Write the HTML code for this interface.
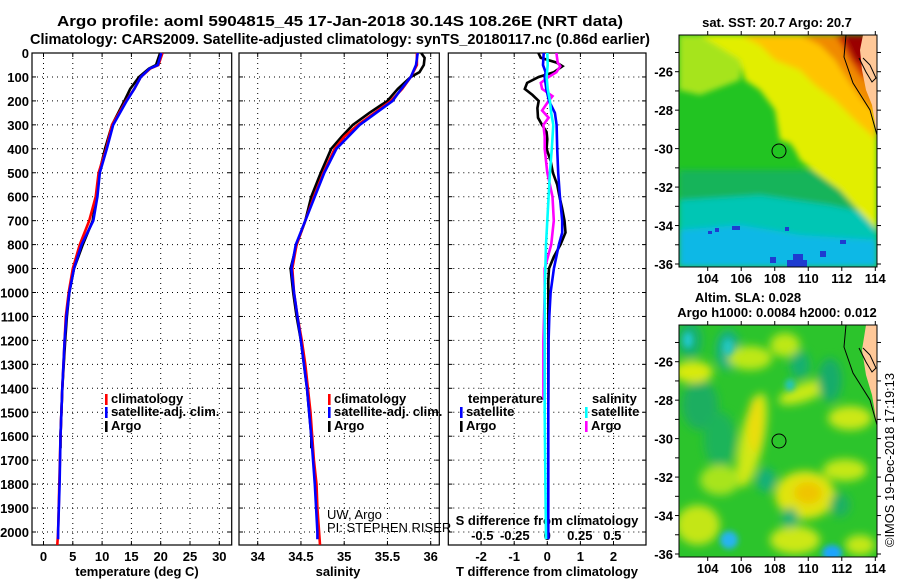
<!DOCTYPE html>
<html><head><meta charset="utf-8"><title>Argo profile</title>
<style>
html,body{margin:0;padding:0;background:#fff;}
svg{display:block;font-family:"Liberation Sans",sans-serif;}
.t{font-weight:bold;font-size:13px;fill:#000;}
.ttl{font-weight:bold;font-size:15px;fill:#000;}
.grid{stroke:#000;stroke-width:1;stroke-dasharray:1 4;fill:none;}
.ln{fill:none;stroke-width:2.6;stroke-linejoin:miter;}
</style></head>
<body>
<svg id="chart" width="900" height="580" viewBox="0 0 900 580">
<defs>
<filter id="b3" x="-20%" y="-20%" width="140%" height="140%"><feGaussianBlur stdDeviation="3"/></filter>
<filter id="b5" x="-50%" y="-50%" width="200%" height="200%"><feGaussianBlur stdDeviation="4.5"/></filter>
<clipPath id="m1c"><rect x="679" y="35" width="198" height="232"/></clipPath>
<clipPath id="m2c"><rect x="679" y="325" width="198" height="232"/></clipPath>
</defs>
<text class="ttl" x="340" y="26" text-anchor="middle" textLength="566" lengthAdjust="spacingAndGlyphs">Argo profile: aoml 5904815_45 17-Jan-2018 30.14S 108.26E (NRT data)</text>
<text class="ttl" x="340" y="44" text-anchor="middle" textLength="620" lengthAdjust="spacingAndGlyphs">Climatology: CARS2009. Satellite-adjusted climatology: synTS_20180117.nc (0.86d earlier)</text>

<!-- Map 1: SST -->
<g clip-path="url(#m1c)">
<rect x="679" y="35" width="198" height="232" fill="#22c422"/>
<g filter="url(#b3)">
<polygon points="679,35 745,35 740,80 700,95 679,90" fill="#a6e41c"/>
<polygon points="679,170 877,170 877,267 679,267" fill="#12b45a"/>
<polygon points="679,200 760,195 830,205 877,215 877,267 679,267" fill="#00c6b4"/>
<polygon points="679,230 740,225 800,235 877,240 877,267 679,267" fill="#10b8e6"/>
<polygon points="700,35 877,35 877,230 860,212 840,190 815,172 800,160 795,150 790,143 780,140 775,110 760,90 745,80 740,60" fill="#e2ee00"/>
<polygon points="740,35 877,35 877,140 855,120 835,100 815,85 800,70 775,60 760,45" fill="#ffc400"/>
<polygon points="800,35 877,35 877,115 862,100 848,80 835,60 820,45" fill="#f08a00"/>
<polygon points="835,35 877,35 877,90 860,75 850,60 842,45" fill="#d03000"/>
<polygon points="843,35 870,35 870,70 855,60" fill="#9a0000"/>
</g>
<g fill="#1e3cd0">
<rect x="715" y="228" width="4" height="4"/><rect x="732" y="226" width="8" height="4"/><rect x="708" y="231" width="4" height="3"/>
<rect x="793" y="254" width="10" height="8"/><rect x="787" y="260" width="20" height="7"/><rect x="820" y="251" width="6" height="6"/>
<rect x="770" y="257" width="6" height="6"/><rect x="785" y="227" width="4" height="4"/><rect x="840" y="240" width="6" height="4"/>
</g>
<polygon points="863,35 877,35 877,135 872,105 866,90 862,70 860,50" fill="#ffc898"/>
<polyline points="846,35 844,57 853,83 870,110 877,135" fill="none" stroke="#000" stroke-width="1"/>
<polyline points="859,58 866,72 872,82 876,78 870,65 863,58" fill="none" stroke="#000" stroke-width="1"/>
<circle cx="779" cy="151" r="7" fill="none" stroke="#000" stroke-width="1"/>
</g>
<rect x="679" y="35" width="198" height="232" fill="none" stroke="#000" stroke-width="1"/>
<text class="t" x="777" y="27" text-anchor="middle">sat. SST: 20.7 Argo: 20.7</text>

<!-- Map 2: SLA -->
<g clip-path="url(#m2c)">
<rect x="679" y="325" width="198" height="232" fill="#2cc42c"/>
<g filter="url(#b5)">
<ellipse cx="690" cy="340" rx="12" ry="18" fill="#18b070"/>
<ellipse cx="728" cy="350" rx="12" ry="20" fill="#12b08a"/>
<ellipse cx="700" cy="405" rx="18" ry="25" fill="#1aae60"/>
<ellipse cx="693" cy="372" rx="20" ry="11" fill="#d8ea10"/>
<ellipse cx="750" cy="358" rx="22" ry="12" fill="#bde818"/>
<ellipse cx="785" cy="345" rx="15" ry="12" fill="#bde818"/>
<ellipse cx="805" cy="392" rx="28" ry="9" fill="#c8ea16" transform="rotate(-20 805 392)"/>
<ellipse cx="752" cy="440" rx="12" ry="48" fill="#d0e812" transform="rotate(12 752 440)"/>
<ellipse cx="755" cy="425" rx="7" ry="28" fill="#ecdc08"/>
<ellipse cx="800" cy="365" rx="10" ry="14" fill="#18b070"/>
<ellipse cx="850" cy="418" rx="22" ry="12" fill="#cce816"/>
<ellipse cx="830" cy="380" rx="12" ry="22" fill="#16ac6a"/>
<ellipse cx="805" cy="495" rx="30" ry="24" fill="#e0e40c"/>
<ellipse cx="808" cy="493" rx="14" ry="11" fill="#f0c400"/>
<ellipse cx="845" cy="470" rx="22" ry="11" fill="#c4e818"/>
<ellipse cx="698" cy="525" rx="22" ry="20" fill="#c4e618"/>
<ellipse cx="795" cy="540" rx="25" ry="14" fill="#cce816"/>
<ellipse cx="720" cy="440" rx="16" ry="28" fill="#1eb45a"/>
<ellipse cx="720" cy="480" rx="20" ry="15" fill="#a8e41e"/>
<ellipse cx="766" cy="480" rx="10" ry="12" fill="#18b078"/>
<ellipse cx="790" cy="518" rx="8" ry="10" fill="#18b078"/>
<ellipse cx="840" cy="505" rx="10" ry="12" fill="#1cb064"/>
<ellipse cx="860" cy="545" rx="15" ry="10" fill="#c4e818"/>
</g>
<g filter="url(#b3)">
<ellipse cx="729" cy="540" rx="9" ry="9" fill="#28b4f0"/>
<ellipse cx="832" cy="553" rx="10" ry="8" fill="#1aa4ff"/>
<ellipse cx="790" cy="385" rx="5" ry="6" fill="#20c4c0"/>
<ellipse cx="688" cy="340" rx="5" ry="8" fill="#22c8c8"/>
<ellipse cx="728" cy="347" rx="5" ry="8" fill="#22c8c0"/>
</g>
<polygon points="866,325 877,325 877,425 872,395 866,375 862,350" fill="#ffc898"/>
<polyline points="846,325 844,347 853,373 870,400 877,425" fill="none" stroke="#000" stroke-width="1"/>
<polyline points="859,348 866,362 872,372 876,368 870,355 863,348" fill="none" stroke="#000" stroke-width="1"/>
<circle cx="779" cy="441" r="7" fill="none" stroke="#000" stroke-width="1"/>
</g>
<rect x="679" y="325" width="198" height="232" fill="none" stroke="#000" stroke-width="1"/>
<text class="t" x="748" y="302" text-anchor="middle">Altim. SLA: 0.028</text>
<text class="t" x="777" y="317" text-anchor="middle">Argo h1000: 0.0084 h2000: 0.012</text>
<text x="894" y="460" font-size="13" text-anchor="middle" transform="rotate(-90 894 460)" textLength="174" lengthAdjust="spacingAndGlyphs">©IMOS 19-Dec-2018 17:19:13</text>

<g id="dyn"></g>
</svg>
<script>
// ---- data ----
const tempDepthClim = [0,50,65,100,150,200,300,400,500,600,700,800,900,1000,1100,1200,1400,1600,1800,2000,2054];
const tempClim = [20.3,19.6,18.2,16.6,15.5,14.1,11.7,10.7,9.4,8.9,7.8,6.2,5.0,4.3,3.8,3.6,3.2,2.9,2.7,2.5,2.35];
const tempDepthSat = [0,50,65,100,150,200,300,400,500,600,700,800,900,1000,1100,1200,1400,1600,1800,2000,2030];
const tempSat = [20.1,19.5,18.1,16.6,15.5,14.2,11.9,10.8,9.6,9.2,8.5,6.5,5.2,4.4,3.9,3.6,3.2,2.9,2.75,2.5,2.5];
const tempDepthArgo = [0,50,65,100,150,200,300,400,500,600,700,800,900,1000,1100,1200,1400,1600,1650];
const tempArgo = [19.9,19.2,18.0,16.3,14.8,13.8,11.7,10.5,9.5,9.0,8.4,6.7,5.2,4.4,4.0,3.7,3.2,2.9,2.9];

const salDepthClim = [0,50,100,150,200,250,300,350,400,500,600,700,800,900,1000,1100,1200,1300,1400,1500,1600,1700,1800,1900,2000,2054];
const salClim = [35.84,35.84,35.77,35.67,35.54,35.35,35.16,35.0,34.89,34.76,34.65,34.55,34.45,34.40,34.42,34.46,34.51,34.55,34.58,34.61,34.63,34.65,34.68,34.69,34.71,34.72];
const salDepthSat = [0,50,100,150,200,300,400,500,600,700,800,900,1000,1200,1400,1600,1800,2000,2030];
const salSat = [35.85,35.83,35.77,35.66,35.56,35.18,34.91,34.77,34.66,34.55,34.44,34.39,34.42,34.5,34.57,34.62,34.66,34.69,34.69];
const salDepthArgo = [0,20,50,80,100,150,200,250,300,350,400,500,600,700,800,900,1000,1100,1200,1400,1600,1650];
const salArgo = [35.89,35.93,35.92,35.87,35.77,35.62,35.5,35.29,35.1,34.97,34.85,34.73,34.62,34.55,34.45,34.38,34.41,34.45,34.5,34.57,34.62,34.62];

const dTArgoDepth = [0,20,40,55,80,100,125,150,175,200,230,270,300,330,360,400,450,500,550,600,650,700,750,800,850,900,950,1000,1100,1200,1300,1450];
const dTArgo = [-0.27,-0.2,0.28,0.46,0.2,-0.26,-0.61,-0.68,-0.45,-0.26,-0.3,-0.28,-0.16,-0.02,0.0,-0.02,0.1,0.17,0.3,0.37,0.45,0.52,0.55,0.4,0.2,0.05,0.03,0.03,0.03,0.03,0.03,0.03];
const dTSatDepth = [0,50,80,100,150,200,250,300,400,500,600,700,750,800,900,1000,1100,1200,1500,2030];
const dTSat = [-0.11,-0.13,-0.05,-0.08,-0.03,0.05,0.23,0.28,0.3,0.33,0.38,0.45,0.45,0.35,0.2,0.1,0.06,0.04,0.03,0.03];
const dSArgoDepth = [0,40,55,80,100,125,150,180,200,240,270,300,350,400,500,600,700,800,900,1000,1200,1450];
const dSArgo = [0.07,0.08,0.1,0.07,0.01,-0.05,-0.04,0.04,0.01,-0.04,0.01,-0.03,-0.02,-0.02,0.0,0.04,0.05,0.03,-0.02,-0.02,-0.03,-0.03];
const dSSatDepth = [0,50,100,150,200,250,300,400,500,600,800,1000,1500,2030];
const dSSat = [0,0.003,-0.005,0.003,0.02,0.03,0.046,0.035,0.02,0.01,-0.01,-0.02,-0.02,-0.01];

const depthTicks = [0,100,200,300,400,500,600,700,800,900,1000,1100,1200,1300,1400,1500,1600,1700,1800,1900,2000];
const tempTicks = [0,5,10,15,20,25,30];
const salTicks = [34,34.5,35,35.5,36];
const dTTicks = [-2,-1,0,1,2];
const dSTicks = [-0.5,-0.25,0,0.25,0.5];
const dSTickLabels = ["-0.5","-0.25","0","0.25","0.5"];
const latTicks = [-26,-28,-30,-32,-34,-36];
const lonTicks = [104,106,108,110,112,114];

// ---- scales ----
const TOP=53, BOT=545;
function yD(d){return 53 + d*0.2395;}
function xT(t){return 43.5 + t*5.86;}
function xS(s){return 257.7 + (s-34)*86.5;}
function xdT(t){return 547.3 + t*33.1;}
function xdS(s){return 547.3 + s*130;}
function xLon(l){return 707.7 + (l-104)*16.76;}
function yLat1(l){return 71.7 + (-26-l)*19.23;}
function yLat2(l){return 361.7 + (-26-l)*19.23;}

const NS="http://www.w3.org/2000/svg";
const root=document.getElementById('dyn');
function mk(tag, attrs, parent){const e=document.createElementNS(NS,tag);for(const k in attrs)e.setAttribute(k,attrs[k]);(parent||root).appendChild(e);return e;}

function panel(name,x0,x1,xticks,xf,xlabels,labelY){
  const g=mk('g',{});
  
  
  for(const d of depthTicks){ if(d>0){mk('line',{x1:x0,x2:x1,y1:yD(d),y2:yD(d),class:'grid'},g);}
    mk('line',{x1:x0,x2:x0+4,y1:yD(d),y2:yD(d),stroke:'#000'},g);
    mk('line',{x1:x1-4,x2:x1,y1:yD(d),y2:yD(d),stroke:'#000'},g);}
  xticks.forEach((v,i)=>{const x=xf(v);
    mk('line',{x1:x,x2:x,y1:TOP,y2:BOT,class:'grid'},g);
    mk('line',{x1:x,x2:x,y1:TOP,y2:TOP+4,stroke:'#000'},g);
    mk('line',{x1:x,x2:x,y1:BOT-4,y2:BOT,stroke:'#000'},g);
    if(xlabels){const t=mk('text',{x:x,y:labelY,class:'t','text-anchor':'middle'},g);t.textContent=xlabels[i];
      
      }
  });
  mk('rect',{x:x0,y:TOP,width:x1-x0,height:BOT-TOP,fill:'none',stroke:'#000','stroke-width':1.2},g);
  return g;
}
panel('temperature-panel',32,231.7,tempTicks,xT,tempTicks.map(String),561);
panel('salinity-panel',239,439.3,salTicks,xS,salTicks.map(String),561);
panel('difference-panel',448.3,646,dTTicks,xdT,dTTicks.map(String),561);

for(const d of depthTicks){const t=mk('text',{x:29,y:yD(d)+5,class:'t','text-anchor':'end'});t.textContent=String(d);
  
  }

dSTicks.forEach((v,i)=>{const t=mk('text',{x:xdS(v),y:540,class:'t','text-anchor':'middle'});t.textContent=dSTickLabels[i];
  
  });
let tt=mk('text',{x:547,y:525,class:'t','text-anchor':'middle'});tt.textContent='S difference from climatology';


tt=mk('text',{x:137,y:576,class:'t','text-anchor':'middle'});tt.textContent='temperature (deg C)';


tt=mk('text',{x:338,y:576,class:'t','text-anchor':'middle'});tt.textContent='salinity';


tt=mk('text',{x:547,y:576,class:'t','text-anchor':'middle'});tt.textContent='T difference from climatology';



function series(name,depths,vals,xf,color){
  const pts=depths.map((d,i)=>xf(vals[i]).toFixed(1)+','+yD(d).toFixed(1)).join(' ');
  const p=mk('polyline',{points:pts,class:'ln',stroke:color});
  
  
}
series('temp-argo-line',tempDepthArgo,tempArgo,xT,'#000');
series('temp-climatology-line',tempDepthClim,tempClim,xT,'#ff0000');
series('temp-satellite-line',tempDepthSat,tempSat,xT,'#0000ff');
series('sal-argo-line',salDepthArgo,salArgo,xS,'#000');
series('sal-climatology-line',salDepthClim,salClim,xS,'#ff0000');
series('sal-satellite-line',salDepthSat,salSat,xS,'#0000ff');
series('tdiff-argo-line',dTArgoDepth,dTArgo,xdT,'#000');
series('sdiff-argo-line',dSArgoDepth,dSArgo,xdS,'#ff00ff');
series('tdiff-satellite-line',dTSatDepth,dTSat,xdT,'#0000ff');
series('sdiff-satellite-line',dSSatDepth,dSSat,xdS,'#00ffff');

function legend(x,y,color,label,name){
  const g=mk('g',{});
  
  
  mk('rect',{x:x,y:y-9,width:2.6,height:11,fill:color},g);
  const t=mk('text',{x:x+6,y:y,class:'t'},g);t.textContent=label;
}
legend(105,403,'#ff0000','climatology','legend-temp-climatology');
legend(105,416,'#0000ff','satellite-adj. clim.','legend-temp-satellite');
legend(105,430,'#000','Argo','legend-temp-argo');
legend(328,403,'#ff0000','climatology','legend-sal-climatology');
legend(328,416,'#0000ff','satellite-adj. clim.','legend-sal-satellite');
legend(328,430,'#000','Argo','legend-sal-argo');
tt=mk('text',{x:468,y:403,class:'t'});tt.textContent='temperature';


tt=mk('text',{x:592,y:403,class:'t'});tt.textContent='salinity';


legend(460,416,'#0000ff','satellite','legend-tdiff-satellite');
legend(460,430,'#000','Argo','legend-tdiff-argo');
legend(585,416,'#00ffff','satellite','legend-sdiff-satellite');
legend(585,430,'#ff00ff','Argo','legend-sdiff-argo');
tt=mk('text',{x:327,y:519,'font-size':'13'});tt.textContent='UW, Argo';


tt=mk('text',{x:327,y:532,'font-size':'13'});tt.textContent='PI: STEPHEN RISER';



function mapAxes(name,yf,top,bot){
  for(let l=-25;l>=-36;l--){const y=yf(l);mk('line',{x1:675,x2:679,y1:y,y2:y,stroke:'#000'});mk('line',{x1:877,x2:881,y1:y,y2:y,stroke:'#000'});}
  latTicks.forEach(l=>{const t=mk('text',{x:673,y:yf(l)+5,class:'t','text-anchor':'end'});t.textContent=String(l);
    
    });
  lonTicks.forEach(l=>{const x=xLon(l);mk('line',{x1:x,x2:x,y1:top-4,y2:top,stroke:'#000'});mk('line',{x1:x,x2:x,y1:bot,y2:bot+4,stroke:'#000'});
    const t=mk('text',{x:x,y:bot+16,class:'t','text-anchor':'middle'});t.textContent=String(l);
    
    });
}
mapAxes('sst-map',yLat1,35,267);
mapAxes('sla-map',yLat2,325,557);
</script>
</body></html>
